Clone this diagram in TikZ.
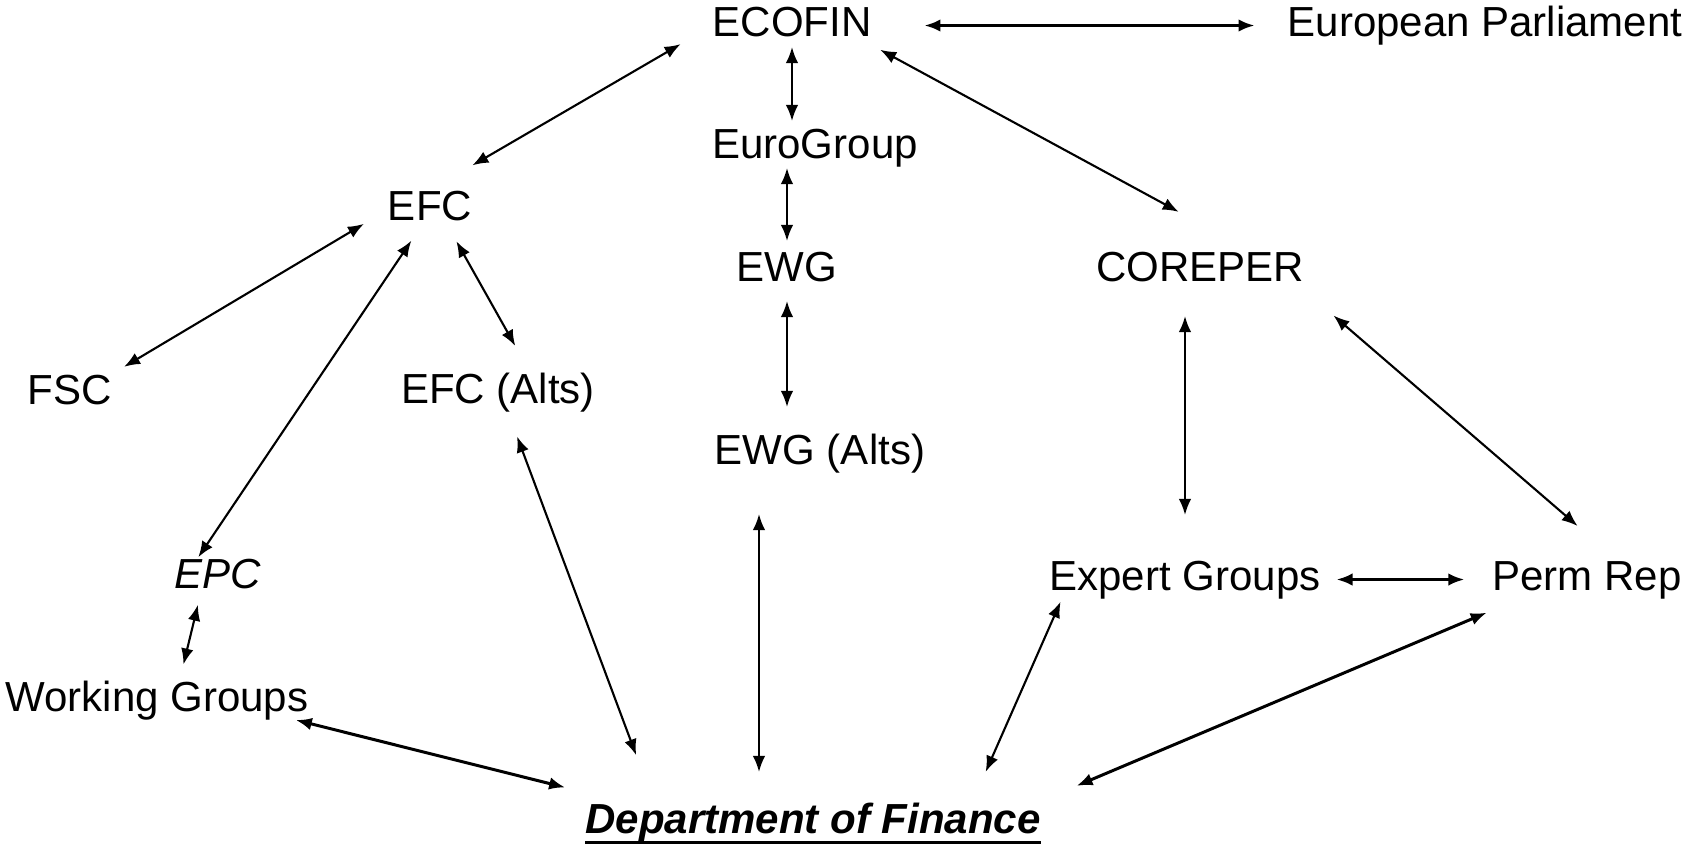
\documentclass[tikz,border=0pt]{standalone}
\usepackage{fontspec}
\setmainfont{Liberation Sans}
\usetikzlibrary{arrows.meta, positioning, calc}

\begin{document}
\begin{tikzpicture}[x=0.01cm, y=-0.01cm,
    box/.style={inner sep=0pt, outer sep=0pt, anchor=base, text height=0.3cm, text depth=0.09cm,
      font=\fontsize{11.95}{14}\selectfont},
    link/.style={{Latex[length=1.6mm,width=1.25mm]}-{Latex[length=1.6mm,width=1.25mm]}, line width=0.6pt},
    heavy/.style={link, line width=0.85pt}]
    \useasboundingbox (0,0) rectangle (1694,844);
    % Instituciones
    \node[box] (ecofin) at (792,36) {ECOFIN};
    \node[box] (parl) at (1485,36) {European Parliament};
    \node[box] (eurogroup) at (815,158) {EuroGroup};
    \node[box] (efc) at (430,220) {EFC};
    \node[box] (ewg) at (787,281) {EWG};
    \node[box] (coreper) at (1200,281) {COREPER};
    \node[box] (fsc) at (70,404) {FSC};
    \node[box] (efcalts) at (498,403) {EFC (Alts)};
    \node[box] (ewgalts) at (820,464) {EWG (Alts)};
    \node[box, font=\fontsize{11.95}{14}\selectfont\itshape] (epc) at (218,588) {EPC};
    \node[box] (wg) at (157,711) {Working Groups};
    \node[box] (expert) at (1185,590) {Expert Groups};
    \node[box] (permrep) at (1587,590) {Perm Rep};
    \node[box, font=\fontsize{11.95}{14}\selectfont\bfseries\itshape] (dof) at (813,833) {Department of Finance};
    \draw[line width=1pt] ([yshift=-0.095cm]dof.base west) -- ([yshift=-0.095cm]dof.base east);
    % Flechas
    \draw[link, shorten <=0.37cm, shorten >=0.49cm] (ecofin.west) -- (efc.north);
    \draw[heavy, shorten <=0.53cm, shorten >=0.33cm] (ecofin.east) -- (parl.west);
    \draw[link, shorten <=0.02cm, shorten >=0.07cm] (ecofin.south) -- (ecofin.south |- eurogroup.north);
    \draw[link, shorten <=0.01cm, shorten >=0.1cm] (ewg.north |- eurogroup.south) -- (ewg.north);
    \draw[link, shorten <=0.11cm, shorten >=0.27cm] (ewg.south) -- (ewg.south |- ewgalts.north);
    \draw[link, shorten <=0.1cm, shorten >=0.82cm] (ecofin.south east) -- (coreper.21);
    \draw[link, shorten <=0.28cm, shorten >=0.14cm] (efc.west) -- (fsc.north east);
    \draw[link, shorten <=0.14cm, shorten >=0.01cm] (efc.241) -- (epc.136);
    \draw[link, shorten <=0.14cm, shorten >=0.31cm] (efc.315) -- (efcalts.31);
    \draw[link, shorten <=0.08cm, shorten >=0.17cm] (epc.227) -- (wg.41);
    \draw[link, shorten <=0.26cm, shorten >=0.51cm] (efcalts.297) -- (dof.173);
    \draw[heavy, shorten >=0.64cm] (wg.352) -- (dof.174);
    \draw[link, shorten <=0.41cm, shorten >=0.31cm] ($(ewgalts.south)+(-61,0)$) -- ($(ewgalts.south |- dof.north)+(-61,0)$);
    \draw[link, shorten <=0.26cm, shorten >=0.45cm] (expert.north |- coreper.south) -- (expert.north);
    \draw[link, shorten <=0.39cm, shorten >=0.52cm] (coreper.south east) -- (permrep.33);
    \draw[heavy, shorten <=0.16cm, shorten >=0.28cm] (expert.east) -- (permrep.west);
    \draw[link, shorten <=0.03cm, shorten >=0.34cm] (expert.189) -- (dof.7);
    \draw[heavy, shorten <=0.35cm, shorten >=0.44cm] (permrep.196) -- (dof.5);
\end{tikzpicture}
\end{document}
